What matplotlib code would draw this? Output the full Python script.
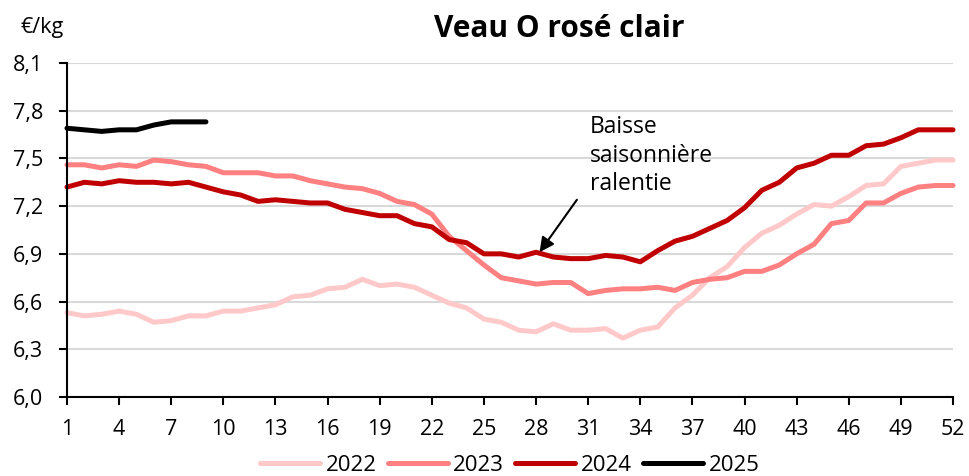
import matplotlib
matplotlib.use("Agg")
import matplotlib.pyplot as plt

plt.rcParams['font.family'] = ['Open Sans', 'DejaVu Sans']

weeks = list(range(1, 53))
y2022 = [6.53, 6.51, 6.52, 6.54, 6.52, 6.47, 6.48, 6.51, 6.51, 6.54,
         6.54, 6.56, 6.58, 6.63, 6.64, 6.68, 6.69, 6.74, 6.70, 6.71,
         6.69, 6.64, 6.59, 6.56, 6.49, 6.47, 6.42, 6.41, 6.46, 6.42,
         6.42, 6.43, 6.37, 6.42, 6.44, 6.56, 6.64, 6.75, 6.82, 6.94,
         7.03, 7.08, 7.15, 7.21, 7.20, 7.26, 7.33, 7.34, 7.45, 7.47,
         7.49, 7.49]
y2023 = [7.46, 7.46, 7.44, 7.46, 7.45, 7.49, 7.48, 7.46, 7.45, 7.41,
         7.41, 7.41, 7.39, 7.39, 7.36, 7.34, 7.32, 7.31, 7.28, 7.23,
         7.21, 7.15, 7.01, 6.92, 6.83, 6.75, 6.73, 6.71, 6.72, 6.72,
         6.65, 6.67, 6.68, 6.68, 6.69, 6.67, 6.72, 6.74, 6.75, 6.79,
         6.79, 6.83, 6.90, 6.96, 7.09, 7.11, 7.22, 7.22, 7.28, 7.32,
         7.33, 7.33]
y2024 = [7.32, 7.35, 7.34, 7.36, 7.35, 7.35, 7.34, 7.35, 7.32, 7.29,
         7.27, 7.23, 7.24, 7.23, 7.22, 7.22, 7.18, 7.16, 7.14, 7.14,
         7.09, 7.07, 6.99, 6.97, 6.90, 6.90, 6.88, 6.91, 6.88, 6.87,
         6.87, 6.89, 6.88, 6.85, 6.92, 6.98, 7.01, 7.06, 7.11, 7.19,
         7.30, 7.35, 7.44, 7.47, 7.52, 7.52, 7.58, 7.59, 7.63, 7.68,
         7.68, 7.68]
y2025 = [7.69, 7.68, 7.67, 7.68, 7.68, 7.71, 7.73, 7.73, 7.73]

series_labels = ['2022', '2023', '2024', '2025']
colors = ['#FFC9C9', '#FF8080', '#C00000', '#000000']

x_ticks = list(range(1, 53, 3))
y_ticks = [6.0, 6.3, 6.6, 6.9, 7.2, 7.5, 7.8, 8.1]
y_tick_labels = ['6,0', '6,3', '6,6', '6,9', '7,2', '7,5', '7,8', '8,1']

fig = plt.figure(figsize=(9.69, 4.76), dpi=100)
ax = fig.add_axes([0.0691, 0.166, 0.9144, 0.7016])

data = [y2022, y2023, y2024, y2025]
for vals, lab, c in zip(data, series_labels, colors):
    ax.plot(weeks[:len(vals)], vals, color=c, lw=3.6, label=lab,
            solid_capstyle='round', solid_joinstyle='round', clip_on=False, zorder=3)

ax.set_xlim(1, 52)
ax.set_ylim(6.0, 8.1)
ax.set_xticks(x_ticks)
ax.set_yticks(y_ticks)
ax.set_yticklabels(y_tick_labels)
ax.tick_params(axis='both', labelsize=15.5, color='black', width=1.5, direction='out')
ax.tick_params(axis='x', length=6, pad=10)
ax.tick_params(axis='y', length=6, pad=11)
ax.yaxis.grid(True, color='#D9D9D9', lw=1.5)
ax.set_axisbelow(True)
for s in ['top', 'right']:
    ax.spines[s].set_visible(False)
for s in ['left', 'bottom']:
    ax.spines[s].set_color('black')
    ax.spines[s].set_linewidth(1.5)
    ax.spines[s].set_zorder(4)

fig.text(0.577, 0.922, 'Veau O rosé clair', ha='center', va='baseline',
         fontsize=21.5, fontweight='bold')
fig.text(0.021, 0.931, '€/kg', ha='left', va='baseline', fontsize=15.5)

ax.text(31.1, 7.775, 'Baisse\nsaisonnière\nralentie', ha='left', va='top',
        fontsize=16.5, linespacing=1.27)
ax.annotate('', xy=(28.2, 6.91), xytext=(30.35, 7.24),
            arrowprops=dict(arrowstyle='-|>', color='black', lw=1.5,
                            mutation_scale=22, shrinkA=0, shrinkB=0))

fig.legend(loc='center', bbox_to_anchor=(0.526, 0.023), ncol=4, frameon=False,
           fontsize=16, handlelength=2.7, handletextpad=0.25, columnspacing=0.5,
           borderaxespad=0)

fig.savefig('out.png', dpi=100)
